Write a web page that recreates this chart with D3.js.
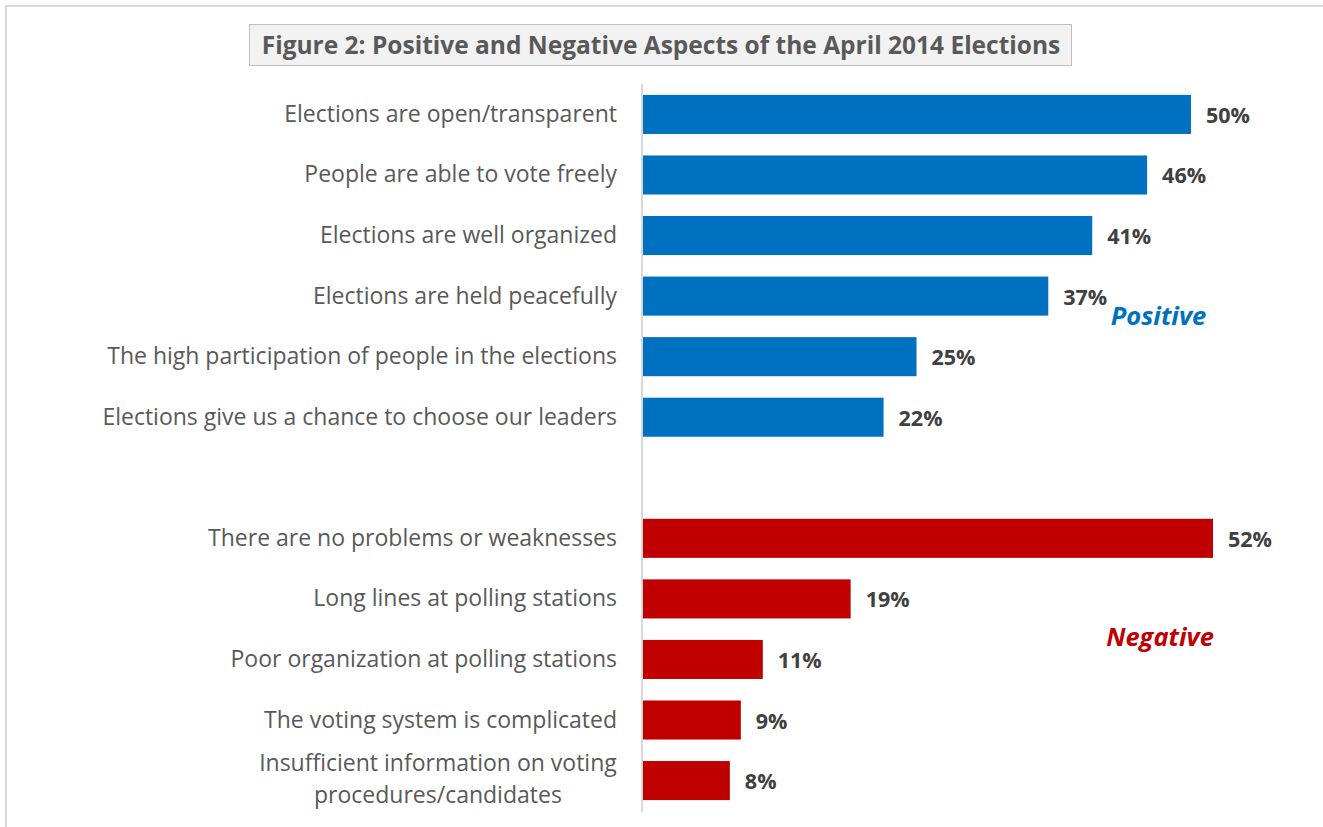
<!DOCTYPE html>
<html>
<head>
<meta charset="utf-8">
<script src="https://cdn.jsdelivr.net/npm/d3@7"></script>
<style>
  html, body { margin: 0; padding: 0; background: #fff; }
  svg { display: block; }
</style>
</head>
<body>
<svg id="chart" width="1323" height="827"></svg>
<script>
// Survey answers, positive aspects first, then negative ones
const positiveLabels = [
  "Elections are open/transparent",
  "People are able to vote freely",
  "Elections are well organized",
  "Elections are held peacefully",
  "The high participation of people in the elections",
  "Elections give us a chance to choose our leaders"
];
const positiveValues = [50, 46, 41, 37, 25, 22];

const negativeLabels = [
  "There are no problems or weaknesses",
  "Long lines at polling stations",
  "Poor organization at polling stations",
  "The voting system is complicated",
  "Insufficient information on voting\nprocedures/candidates"
];
const negativeValues = [52, 19, 11, 9, 8];

const titleText = "Figure 2: Positive and Negative Aspects of the April 2014 Elections";

const svg = d3.select("#chart");
const font = "'Open Sans', sans-serif";

// outer frame
svg.append("path")
  .attr("d", "M6,827 V6 H1323")
  .attr("fill", "none")
  .attr("stroke", "#d9d9d9")
  .attr("stroke-width", 2);

// rows: positive group, one empty slot, negative group
const rows = [
  ...positiveLabels.map((l, i) => ({ key: "p" + i, label: l, value: positiveValues[i], group: "pos" })),
  { key: "gap", label: "", value: null, group: "gap" },
  ...negativeLabels.map((l, i) => ({ key: "n" + i, label: l, value: negativeValues[i], group: "neg" }))
];

const x = d3.scaleLinear().domain([0, 52]).range([642, 1213]);
const y = d3.scaleBand()
  .domain(rows.map(d => d.key))
  .range([84, 811])
  .paddingInner(0.355)
  .paddingOuter(0.18);

const colors = { pos: "#0070c0", neg: "#c00000" };

// vertical axis line
svg.append("line")
  .attr("x1", 642).attr("x2", 642)
  .attr("y1", 84).attr("y2", 812)
  .attr("stroke", "#d9d9d9")
  .attr("stroke-width", 2);

const data = rows.filter(d => d.value !== null);

svg.append("g").selectAll("rect")
  .data(data)
  .join("rect")
  .attr("x", x(0) + 1)
  .attr("y", d => y(d.key))
  .attr("width", d => x(d.value) - x(0) - 1)
  .attr("height", y.bandwidth())
  .attr("fill", d => colors[d.group]);

// value labels
svg.append("g").selectAll("text")
  .data(data)
  .join("text")
  .attr("x", d => x(d.value) + 15)
  .attr("y", d => y(d.key) + y.bandwidth() / 2 + 8.5)
  .attr("font-family", font)
  .attr("font-weight", "bold")
  .attr("font-size", 21.5)
  .attr("fill", "#404040")
  .text(d => d.value + "%");

// category labels
const catG = svg.append("g");
data.forEach(d => {
  const lines = d.label.split("\n");
  const cy = y(d.key) + y.bandwidth() / 2;
  if (lines.length === 1) {
    catG.append("text")
      .attr("x", 617)
      .attr("y", cy + 7.5)
      .attr("text-anchor", "end")
      .attr("font-family", font)
      .attr("font-size", 23)
      .attr("fill", "#595959")
      .text(lines[0]);
  } else {
    const t = catG.append("text")
      .attr("font-family", font)
      .attr("font-size", 23)
      .attr("fill", "#595959")
      .attr("text-anchor", "middle");
    t.append("tspan").attr("x", 0).attr("y", cy - 9.5).text(lines[0]);
    t.append("tspan").attr("x", 0).attr("y", cy + 22.5).text(lines[1]);
    // centre the wrapped block, right edge of widest line at 617
    const w = t.node().getBBox().width;
    t.selectAll("tspan").attr("x", 617 - w / 2);
  }
});

// group annotations
svg.append("text")
  .attr("x", 1158.5).attr("y", 325)
  .attr("text-anchor", "middle")
  .attr("font-family", font)
  .attr("font-weight", "bold")
  .attr("font-style", "italic")
  .attr("font-size", 25.5)
  .attr("fill", colors.pos)
  .text("Positive");

svg.append("text")
  .attr("x", 1160).attr("y", 646)
  .attr("text-anchor", "middle")
  .attr("font-family", font)
  .attr("font-weight", "bold")
  .attr("font-style", "italic")
  .attr("font-size", 25.5)
  .attr("fill", colors.neg)
  .text("Negative");

// title box
svg.append("rect")
  .attr("x", 249.5).attr("y", 24.5)
  .attr("width", 822).attr("height", 41)
  .attr("fill", "#f2f2f2")
  .attr("stroke", "#bfbfbf")
  .attr("stroke-width", 1);

svg.append("text")
  .attr("x", 661).attr("y", 54)
  .attr("text-anchor", "middle")
  .attr("font-family", font)
  .attr("font-weight", "bold")
  .attr("font-size", 24.5)
  .attr("fill", "#595959")
  .text(titleText);
</script>
</body>
</html>
